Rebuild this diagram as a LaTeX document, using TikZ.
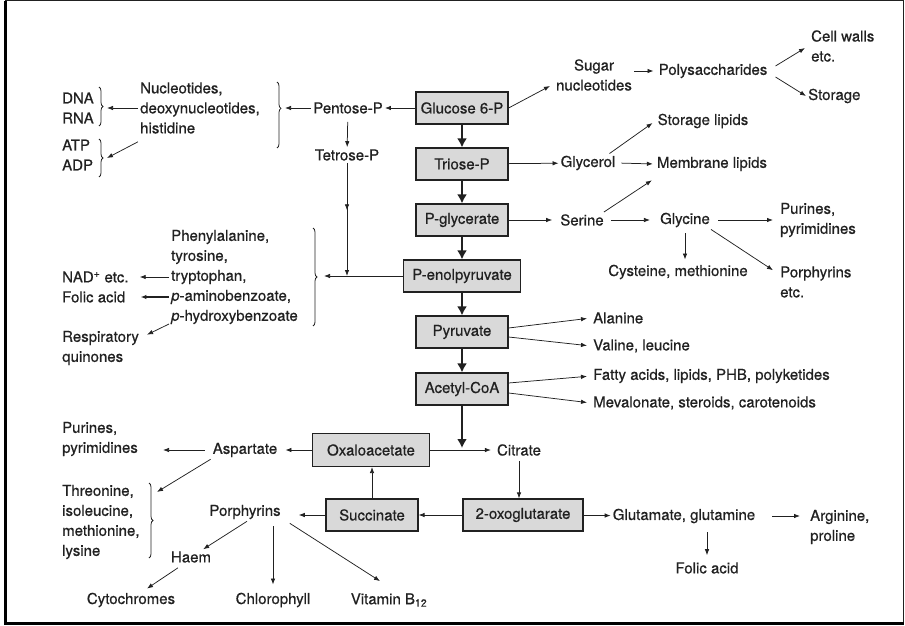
\documentclass[tikz,border=0pt]{standalone}
\usepackage{fontspec}
\setmainfont{TeX Gyre Heros}[FakeBold=0.6]
\usepackage{tikz}
\usetikzlibrary{arrows.meta,calc,decorations.pathreplacing,decorations.markings}
\definecolor{ink}{gray}{0.13}
\definecolor{boxgray}{gray}{0.85}

\begin{document}
\begin{tikzpicture}[x=1pt, y=-1pt,
    every node/.style={font=\fontsize{15}{20}\selectfont, text=ink},
    lbl/.style={inner sep=2pt, align=left},
    stage/.style={draw=ink, fill=boxgray, line width=1.2pt, minimum width=92pt, minimum height=32pt, inner sep=2pt},
    flow/.style={draw=ink, line width=0.75pt, -{Latex[length=6pt,width=4.5pt]}},
    main/.style={draw=ink, line width=2.6pt, -{Latex[length=9pt,width=10pt]}},
    curly/.style={draw=ink, line width=0.8pt, decorate, decoration={brace, amplitude=4pt, aspect=#1}},
    curly/.default=0.5,
    midtip/.style={postaction={decorate, decoration={markings, mark=at position #1 with {\arrow{Latex[length=6pt,width=4.5pt]}}}}}
]
    \useasboundingbox (0,0) rectangle (905,626);
    % Frame
    \draw[ink, line width=1pt] (5,1) rectangle (903.5,623);
    \draw[black, line width=3pt] (5,1) -- (5,623) -- (903.5,623);

    % Central pathway
    \node[stage] (glc) at (462,108) {Glucose 6-P};
    \node[stage] (tri) at (462,164) {Triose-P};
    \node[stage] (pgly) at (462,220) {P-glycerate};
    \node[stage, minimum width=117pt] (pep) at (462,276) {P-enolpyruvate};
    \node[stage] (pyr) at (462,332) {Pyruvate};
    \node[stage] (acoa) at (462,389) {Acetyl-CoA};
    \node[stage, minimum width=117pt, minimum height=33pt] (oaa) at (371,450) {Oxaloacetate};
    \node[stage] (suc) at (372,515) {Succinate};
    \node[stage, minimum width=120pt] (oxg) at (523,515) {2-oxoglutarate};
    \coordinate (accJ) at (462,448);
    \coordinate (pepJ) at (347,276);

    \draw[main] (glc) -- (tri);
    \draw[main] (tri) -- (pgly);
    \draw[main] (pgly) -- (pep);
    \draw[main] (pep) -- (pyr);
    \draw[main] (pyr) -- (acoa);
    \draw[main] (acoa) -- (accJ);

    % Left, upper part
    \node[lbl, anchor=west] (dna) at (60,108) {DNA\\RNA};
    \node[lbl, anchor=west] (atp) at (60,155) {ATP\\ADP};
    \node[lbl, anchor=west] (nuc) at (138,108) {Nucleotides,\\deoxynucleotides,\\histidine};
    \node[lbl] (pent) at (348,108) {Pentose-P};
    \node[lbl] (tet) at (347,155) {Tetrose-P};
    \node[lbl, anchor=west] (phe) at (169,277) {Phenylalanine,\\tyrosine,\\tryptophan,\\\textit{p}-aminobenzoate,\\\textit{p}-hydroxybenzoate};
    \node[lbl, anchor=west] (nad) at (60,277) {NAD\textsuperscript{+} etc.};
    \node[lbl, anchor=west] (fol) at (60,297) {Folic acid};
    \node[lbl, anchor=west] (resp) at (60,348) {Respiratory\\quinones};

    \draw[curly=0.4] (277,82) -- (277,148);
    \draw[curly] (99,87) -- (99,126);
    \draw[curly] (99,139) -- (99,177);
    \draw[curly] (313,228) -- (313,326);
    \coordinate (nucB) at (285,108);
    \coordinate (dnaB) at (107,108);
    \coordinate (atpB) at (107,158);
    \coordinate (pheB) at (324,276);

    \draw[flow] (glc) -- (pent);
    \draw[flow] (pent) -- (nucB);
    \draw[flow] (nuc) -- (dnaB);
    \draw[flow] ([yshift=-6pt]nuc.south west) -- (atpB);
    \draw[flow, shorten <=6pt] (pent) -- (tet);
    \draw[flow, midtip=0.42] (tet) -- (pepJ);
    \draw[flow] (pep) -- (pheB);
    \draw[flow, shorten >=9pt] (phe.west) -- (nad.east);
    \draw[flow, line width=1.2pt, shorten >=13pt] ([yshift=-20pt]phe.west) -- (fol.east);
    \draw[flow] ([yshift=-47pt]phe.west) -- ([xshift=6pt,yshift=-6pt]resp.north east);

    % Right, upper part
    \node[lbl, align=center] (sug) at (594,75) {Sugar\\nucleotides};
    \node[lbl] (poly) at (713,71) {Polysaccharides};
    \node[lbl, anchor=west] (cell) at (809,46) {Cell walls\\etc.};
    \node[lbl, anchor=west] (stor) at (806,96) {Storage};
    \node[lbl] (glyc) at (588,163) {Glycerol};
    \node[lbl] (slip) at (703,121) {Storage lipids};
    \node[lbl] (mlip) at (712,164) {Membrane lipids};
    \node[lbl] (ser) at (582,220) {Serine};
    \node[lbl] (glyn) at (685,220) {Glycine};
    \node[lbl, anchor=west] (purR) at (778,220) {Purines,\\pyrimidines};
    \node[lbl] (cys) at (678,272) {Cysteine, methionine};
    \node[lbl, anchor=west] (porR) at (778,282) {Porphyrins\\etc.};
    \node[lbl, anchor=west] (ala) at (591,318) {Alanine};
    \node[lbl, anchor=west] (val) at (591,346) {Valine, leucine};
    \node[lbl, anchor=west] (fat) at (591,376) {Fatty acids, lipids, PHB, polyketides};
    \node[lbl, anchor=west] (mev) at (591,403) {Mevalonate, steroids, carotenoids};

    \draw[flow] (glc.east) -- ([xshift=-4pt,yshift=-11pt]sug.west);
    \draw[flow, shorten >=3pt] (sug.east |- poly.west) -- (poly.west);
    \draw[flow] ([xshift=6pt,yshift=5pt]poly.east) -- ([xshift=-4pt,yshift=-2pt]cell.west);
    \draw[flow] ([xshift=6pt,yshift=-6pt]poly.east) -- (stor.west);
    \draw[flow] (tri) -- (glyc);
    \draw[flow] ([xshift=-8pt]glyc.north east) -- ([xshift=-3pt,yshift=-2pt]slip.west);
    \draw[flow, shorten <=4pt, shorten >=2pt] (glyc.east) -- (mlip.west);
    \draw[flow] ([xshift=-2pt]ser.north east) -- ([xshift=-3pt,yshift=-7pt]mlip.south west);
    \draw[flow, shorten >=6pt] (pgly) -- (ser);
    \draw[flow, shorten <=5pt, shorten >=8pt] (ser) -- (glyn);
    \draw[flow, shorten <=6pt, shorten >=5pt] (glyn) -- (purR);
    \draw[flow, shorten <=4pt, shorten >=3pt] (glyn.south) -- (glyn.south |- cys.north);
    \draw[flow] ([xshift=-1pt]glyn.south east) -- ([xshift=-5pt,yshift=-6pt]porR.north west);
    \draw[flow, shorten >=4pt] ([yshift=4pt]pyr.east) -- (ala.west);
    \draw[flow, shorten >=4pt] ([yshift=-5pt]pyr.east) -- (val.west);
    \draw[flow, shorten >=4pt] ([yshift=6pt]acoa.east) -- (fat.west);
    \draw[flow, shorten >=4pt] ([yshift=-4pt]acoa.east) -- (mev.west);

    % Lower part
    \node[lbl] (cit) at (519,450) {Citrate};
    \node[lbl] (glu) at (684,516) {Glutamate, glutamine};
    \node[lbl, anchor=west] (arg) at (808,527) {Arginine,\\proline};
    \node[lbl] (folR) at (707,568) {Folic acid};
    \node[lbl] (asp) at (245,450) {Aspartate};
    \node[lbl, anchor=west] (purL) at (60,439) {Purines,\\pyrimidines};
    \node[lbl, anchor=west] (thr) at (60,522) {Threonine,\\isoleucine,\\methionine,\\lysine};
    \node[lbl] (porph) at (245,512) {Porphyrins};
    \node[lbl] (haem) at (191,557) {Haem};
    \node[lbl] (cyt) at (131,600) {Cytochromes};
    \node[lbl] (chl) at (273,600) {Chlorophyll};
    \node[lbl] (vitb) at (389,600) {Vitamin B\textsubscript{12}};
    \draw[curly] (149,483) -- (149,558);
    \coordinate (thrB) at (157,492);

    \draw[flow, shorten >=4pt] (oaa) -- (cit);
    \draw[flow, shorten <=3pt] (cit) -- (cit |- oxg.north);
    \draw[flow] (oxg) -- (suc);
    \draw[flow] (suc) -- (suc |- oaa.south);
    \draw[flow, shorten >=16pt] (suc.west) -- (suc.west -| porph.east);
    \draw[flow, shorten >=6pt] (oaa) -- (asp);
    \draw[flow, shorten <=6pt, shorten >=23pt] (asp.west) -- (asp.west -| purL.east);
    \draw[flow] (asp.south west) -- (thrB);
    \draw[flow] ([xshift=2pt]porph.south) -- ([xshift=-10pt]haem.north east);
    \draw[flow] ([xshift=-13pt,yshift=-3pt]haem.south) -- ([xshift=16pt,yshift=2pt]cyt.north);
    \draw[flow, shorten <=5pt, shorten >=6pt] (chl.north |- porph.south) -- (chl.north);
    \draw[flow] ([xshift=7pt,yshift=-2pt]porph.south east) -- ([xshift=-9pt,yshift=10pt]vitb.north);
    \draw[flow] (oxg) -- (glu);
    \draw[flow, shorten <=15pt, shorten >=8pt] (glu.east) -- (glu.east -| arg.west);
    \draw[flow, shorten <=7pt, shorten >=5pt] (folR.north |- glu.south) -- (folR.north);
\end{tikzpicture}
\end{document}
